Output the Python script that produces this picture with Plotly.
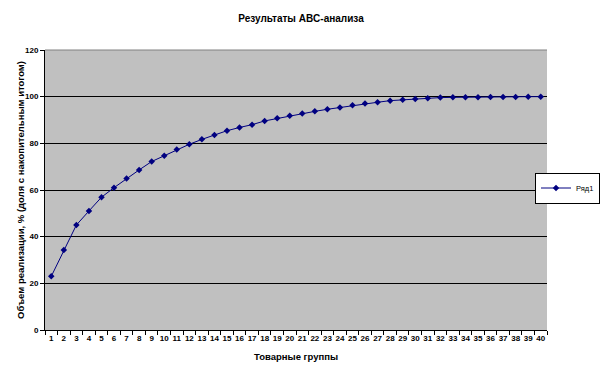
import plotly.graph_objects as go

categories = list(range(1, 41))
values = [23.0, 34.3, 45.0, 51.0, 56.9, 61.0, 64.9, 68.6, 72.2, 74.7,
          77.4, 79.6, 81.7, 83.6, 85.4, 86.8, 88.0, 89.6, 90.7, 91.8,
          92.8, 93.7, 94.6, 95.4, 96.3, 97.1, 97.6, 98.3, 98.7, 99.0,
          99.3, 99.6, 99.7, 99.8, 99.8, 99.9, 99.9, 99.9, 100.0, 100.0]
y_ticks = [0, 20, 40, 60, 80, 100, 120]

navy = "#000080"
font = dict(family="Liberation Sans, Arial, sans-serif", size=8, color="black")

fig = go.Figure()
fig.add_trace(go.Scatter(
    x=categories, y=values, mode="lines+markers", name="Ряд1",
    line=dict(color=navy, width=1),
    marker=dict(symbol="diamond", size=5, color=navy),
))

fig.update_layout(
    width=602, height=374,
    margin=dict(l=45, r=55, t=50, b=44, autoexpand=False),
    paper_bgcolor="white", plot_bgcolor="#C0C0C0",
    font=font,
    title=dict(text="<b>Результаты ABC-анализа</b>", x=0.5, xanchor="center",
               y=1 - 18 / 374, yanchor="middle", font=dict(size=10)),
    showlegend=True,
    legend=dict(xref="container", yref="container", x=600 / 602, xanchor="right",
                y=1 - 188 / 374, yanchor="middle",
                bordercolor="black", borderwidth=1, bgcolor="white",
                font=dict(size=7.5), itemwidth=30,
                tracegroupgap=0),
    xaxis=dict(range=[0.5, 40.5], tickmode="array", tickvals=categories,
               ticktext=[f"<b>{c}</b>" for c in categories], ticks="",
               showgrid=False, zeroline=False, showline=True, linecolor="black",
               linewidth=1, tickfont=dict(size=8),
               minor=dict(tick0=0.5, dtick=1, ticks="outside", ticklen=4,
                          tickcolor="black", showgrid=False)),
    yaxis=dict(range=[0, 120], tickmode="array", tickvals=y_ticks,
               ticktext=[f"<b>{v}</b>" for v in y_ticks],
               ticks="outside", ticklen=4, tickcolor="black",
               showgrid=True, gridcolor="black", gridwidth=1,
               zeroline=False, showline=True, linecolor="black", linewidth=1,
               tickfont=dict(size=8)),
    annotations=[
        dict(text="<b>Товарные группы</b>", xref="paper", yref="paper",
             x=0.5, y=-26 / 280, xanchor="center", yanchor="middle",
             showarrow=False, font=dict(size=9.5)),
        dict(text="<b>Объем реализации, % (доля с накопительным итогом)</b>",
             xref="paper", yref="paper", x=-25 / 502, y=0.5,
             xanchor="center", yanchor="middle", textangle=-90,
             showarrow=False, font=dict(size=9.5)),
    ],
    shapes=[dict(type="line", xref="paper", yref="paper", x0=0, x1=1, y0=1, y1=1,
                 line=dict(color="#808080", width=1))],
)

fig.write_html("out.html", config={"displayModeBar": False},
               post_script="document.body.style.margin='0';document.body.style.overflow='hidden';")
